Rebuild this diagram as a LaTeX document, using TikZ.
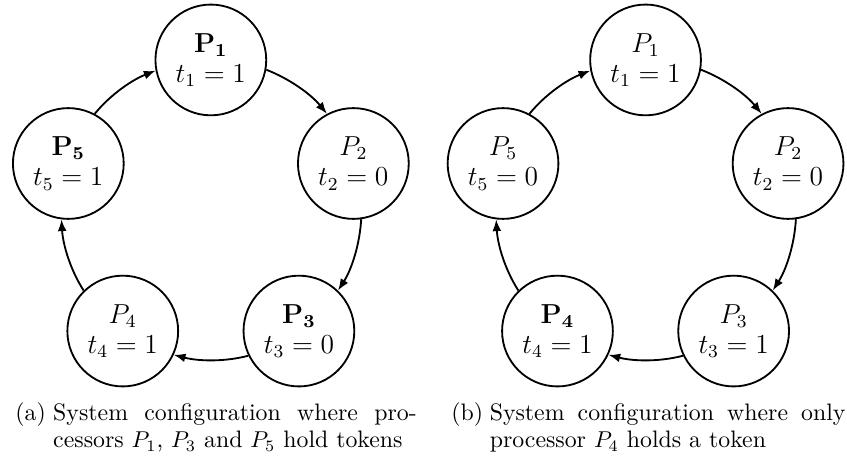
\documentclass[tikz,border=0pt]{standalone}
\usetikzlibrary{arrows.meta}

\begin{document}
\begin{tikzpicture}[
  proc/.style={circle, draw, thick, minimum size=1.7cm, inner sep=0pt, align=center,
    font=\fontsize{11.5}{13.2}\selectfont},
  pass/.style={draw, thick, -{Latex[length=1.8mm]}},
  sublabel/.style={inner sep=0pt, anchor=north west, font=\fontsize{10.4}{11.8}\selectfont,
    execute at begin node=\strut},
  subcap/.style={sublabel, align=justify}
]
  \useasboundingbox (0,0) rectangle (13,7);

  % ring (a): P1, P3 and P5 hold tokens
  \begin{scope}[shift={(3.236,3.78)}]
    \node[proc] (a1) at (90:2.3)   {$\mathbf{P_1}$\\$t_1=1$};
    \node[proc] (a2) at (18:2.3)   {$P_2$\\$t_2=0$};
    \node[proc] (a3) at (-54:2.3)  {$\mathbf{P_3}$\\$t_3=0$};
    \node[proc] (a4) at (-126:2.3) {$P_4$\\$t_4=1$};
    \node[proc] (a5) at (162:2.3)  {$\mathbf{P_5}$\\$t_5=1$};
  \end{scope}

  % ring (b): only P4 holds a token
  \begin{scope}[shift={(9.908,3.78)}]
    \node[proc] (b1) at (90:2.3)   {$P_1$\\$t_1=1$};
    \node[proc] (b2) at (18:2.3)   {$P_2$\\$t_2=0$};
    \node[proc] (b3) at (-54:2.3)  {$P_3$\\$t_3=1$};
    \node[proc] (b4) at (-126:2.3) {$\mathbf{P_4}$\\$t_4=1$};
    \node[proc] (b5) at (162:2.3)  {$P_5$\\$t_5=0$};
  \end{scope}

  % token passing, clockwise along the ring
  \foreach \i/\j [evaluate=\i as \s using 61.35-72*\i,
                  evaluate=\i as \o using 50.7-72*\i,
                  evaluate=\i as \e using 190.65-72*\i,
                  evaluate=\i as \n using 201.3-72*\i] in {1/2,2/3,3/4,4/5,5/1} {
    \draw[pass] (a\i.\s) to[out=\o, in=\n, looseness=0.86] (a\j.\e);
    \draw[pass] (b\i.\s) to[out=\o, in=\n, looseness=0.86] (b\j.\e);
  }

  % sub-captions
  \node[sublabel] (laba) at (0.23,0.84) {(a)};
  \node[subcap, text width=5.58cm] (capa) at (0.81,0.84)
    {System configuration where pro-\linebreak cessors $P_1$, $P_3$ and $P_5$ hold tokens};
  \node[sublabel] (labb) at (6.92,0.84) {(b)};
  \node[subcap, text width=5.46cm] (capb) at (7.51,0.84)
    {System configuration where only\linebreak processor $P_4$ holds a token};
\end{tikzpicture}
\end{document}
